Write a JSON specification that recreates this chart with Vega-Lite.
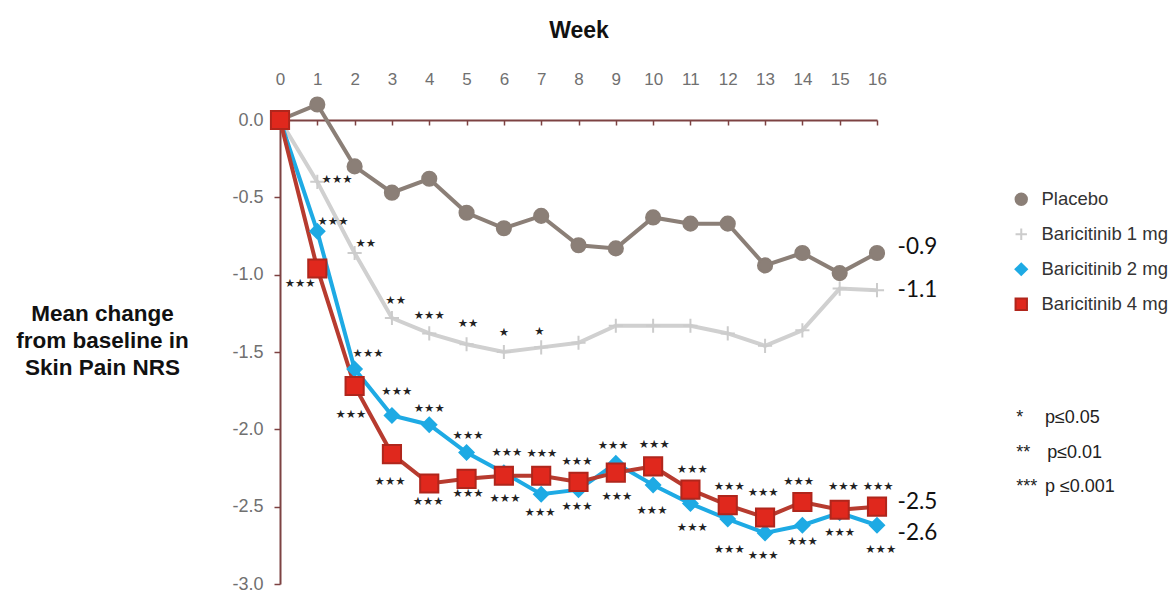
{
  "$schema": "https://vega.github.io/schema/vega-lite/v6.json",
  "width": 597,
  "height": 464,
  "autosize": {"type": "none"},
  "padding": {"left": 280, "top": 120, "right": 296, "bottom": 8},
  "background": "white",
  "config": {
    "view": {"stroke": null},
    "font": "Liberation Sans",
    "legend": {
      "orient": "none", "legendX": 732, "legendY": 70,
      "labelFontSize": 18.5, "labelColor": "#333", "labelOffset": 11,
      "symbolSize": 130, "rowPadding": 15, "symbolStrokeWidth": 2
    }
  },
  "datasets": {
    "series": [
      {"week": 0, "group": "Placebo", "value": 0},
      {"week": 1, "group": "Placebo", "value": 0.10},
      {"week": 2, "group": "Placebo", "value": -0.30},
      {"week": 3, "group": "Placebo", "value": -0.47},
      {"week": 4, "group": "Placebo", "value": -0.38},
      {"week": 5, "group": "Placebo", "value": -0.60},
      {"week": 6, "group": "Placebo", "value": -0.70},
      {"week": 7, "group": "Placebo", "value": -0.62},
      {"week": 8, "group": "Placebo", "value": -0.81},
      {"week": 9, "group": "Placebo", "value": -0.83},
      {"week": 10, "group": "Placebo", "value": -0.63},
      {"week": 11, "group": "Placebo", "value": -0.67},
      {"week": 12, "group": "Placebo", "value": -0.67},
      {"week": 13, "group": "Placebo", "value": -0.94},
      {"week": 14, "group": "Placebo", "value": -0.86},
      {"week": 15, "group": "Placebo", "value": -0.99},
      {"week": 16, "group": "Placebo", "value": -0.86},
      {"week": 0, "group": "Baricitinib 1 mg", "value": 0},
      {"week": 1, "group": "Baricitinib 1 mg", "value": -0.40},
      {"week": 2, "group": "Baricitinib 1 mg", "value": -0.86},
      {"week": 3, "group": "Baricitinib 1 mg", "value": -1.28},
      {"week": 4, "group": "Baricitinib 1 mg", "value": -1.38},
      {"week": 5, "group": "Baricitinib 1 mg", "value": -1.45},
      {"week": 6, "group": "Baricitinib 1 mg", "value": -1.50},
      {"week": 7, "group": "Baricitinib 1 mg", "value": -1.47},
      {"week": 8, "group": "Baricitinib 1 mg", "value": -1.44},
      {"week": 9, "group": "Baricitinib 1 mg", "value": -1.33},
      {"week": 10, "group": "Baricitinib 1 mg", "value": -1.33},
      {"week": 11, "group": "Baricitinib 1 mg", "value": -1.33},
      {"week": 12, "group": "Baricitinib 1 mg", "value": -1.38},
      {"week": 13, "group": "Baricitinib 1 mg", "value": -1.46},
      {"week": 14, "group": "Baricitinib 1 mg", "value": -1.36},
      {"week": 15, "group": "Baricitinib 1 mg", "value": -1.09},
      {"week": 16, "group": "Baricitinib 1 mg", "value": -1.10},
      {"week": 0, "group": "Baricitinib 2 mg", "value": 0},
      {"week": 1, "group": "Baricitinib 2 mg", "value": -0.72},
      {"week": 2, "group": "Baricitinib 2 mg", "value": -1.61},
      {"week": 3, "group": "Baricitinib 2 mg", "value": -1.91},
      {"week": 4, "group": "Baricitinib 2 mg", "value": -1.97},
      {"week": 5, "group": "Baricitinib 2 mg", "value": -2.15},
      {"week": 6, "group": "Baricitinib 2 mg", "value": -2.28},
      {"week": 7, "group": "Baricitinib 2 mg", "value": -2.42},
      {"week": 8, "group": "Baricitinib 2 mg", "value": -2.39},
      {"week": 9, "group": "Baricitinib 2 mg", "value": -2.22},
      {"week": 10, "group": "Baricitinib 2 mg", "value": -2.36},
      {"week": 11, "group": "Baricitinib 2 mg", "value": -2.48},
      {"week": 12, "group": "Baricitinib 2 mg", "value": -2.58},
      {"week": 13, "group": "Baricitinib 2 mg", "value": -2.67},
      {"week": 14, "group": "Baricitinib 2 mg", "value": -2.62},
      {"week": 15, "group": "Baricitinib 2 mg", "value": -2.54},
      {"week": 16, "group": "Baricitinib 2 mg", "value": -2.62},
      {"week": 0, "group": "Baricitinib 4 mg", "value": 0},
      {"week": 1, "group": "Baricitinib 4 mg", "value": -0.96},
      {"week": 2, "group": "Baricitinib 4 mg", "value": -1.72},
      {"week": 3, "group": "Baricitinib 4 mg", "value": -2.16},
      {"week": 4, "group": "Baricitinib 4 mg", "value": -2.35},
      {"week": 5, "group": "Baricitinib 4 mg", "value": -2.32},
      {"week": 6, "group": "Baricitinib 4 mg", "value": -2.30},
      {"week": 7, "group": "Baricitinib 4 mg", "value": -2.30},
      {"week": 8, "group": "Baricitinib 4 mg", "value": -2.34},
      {"week": 9, "group": "Baricitinib 4 mg", "value": -2.28},
      {"week": 10, "group": "Baricitinib 4 mg", "value": -2.24},
      {"week": 11, "group": "Baricitinib 4 mg", "value": -2.39},
      {"week": 12, "group": "Baricitinib 4 mg", "value": -2.49},
      {"week": 13, "group": "Baricitinib 4 mg", "value": -2.57},
      {"week": 14, "group": "Baricitinib 4 mg", "value": -2.47},
      {"week": 15, "group": "Baricitinib 4 mg", "value": -2.52},
      {"week": 16, "group": "Baricitinib 4 mg", "value": -2.50}
    ],
    "stars": [
      {"week": 1.53, "value": -0.39, "label": "★★★"},
      {"week": 2.3, "value": -0.80, "label": "★★"},
      {"week": 3.1, "value": -1.17, "label": "★★"},
      {"week": 4.0, "value": -1.27, "label": "★★★"},
      {"week": 5.04, "value": -1.32, "label": "★★"},
      {"week": 6.0, "value": -1.38, "label": "★"},
      {"week": 6.95, "value": -1.37, "label": "★"},
      {"week": 1.42, "value": -0.66, "label": "★★★"},
      {"week": 2.36, "value": -1.51, "label": "★★★"},
      {"week": 3.13, "value": -1.76, "label": "★★★"},
      {"week": 4.0, "value": -1.87, "label": "★★★"},
      {"week": 5.04, "value": -2.04, "label": "★★★"},
      {"week": 6.08, "value": -2.15, "label": "★★★"},
      {"week": 7.02, "value": -2.16, "label": "★★★"},
      {"week": 7.96, "value": -2.21, "label": "★★★"},
      {"week": 8.93, "value": -2.11, "label": "★★★"},
      {"week": 10.03, "value": -2.10, "label": "★★★"},
      {"week": 11.05, "value": -2.26, "label": "★★★"},
      {"week": 12.04, "value": -2.37, "label": "★★★"},
      {"week": 12.95, "value": -2.41, "label": "★★★"},
      {"week": 13.9, "value": -2.34, "label": "★★★"},
      {"week": 15.1, "value": -2.37, "label": "★★★"},
      {"week": 16.03, "value": -2.37, "label": "★★★"},
      {"week": 0.54, "value": -1.06, "label": "★★★"},
      {"week": 1.9, "value": -1.91, "label": "★★★"},
      {"week": 2.95, "value": -2.34, "label": "★★★"},
      {"week": 3.97, "value": -2.47, "label": "★★★"},
      {"week": 5.04, "value": -2.42, "label": "★★★"},
      {"week": 6.03, "value": -2.45, "label": "★★★"},
      {"week": 6.97, "value": -2.54, "label": "★★★"},
      {"week": 7.96, "value": -2.50, "label": "★★★"},
      {"week": 9.03, "value": -2.44, "label": "★★★"},
      {"week": 9.97, "value": -2.53, "label": "★★★"},
      {"week": 11.05, "value": -2.64, "label": "★★★"},
      {"week": 12.04, "value": -2.78, "label": "★★★"},
      {"week": 12.95, "value": -2.82, "label": "★★★"},
      {"week": 14.0, "value": -2.73, "label": "★★★"},
      {"week": 15.0, "value": -2.67, "label": "★★★"},
      {"week": 16.1, "value": -2.78, "label": "★★★"}
    ],
    "ends": [
      {"week": 16.55, "value": -0.82, "label": "-0.9"},
      {"week": 16.55, "value": -1.10, "label": "-1.1"},
      {"week": 16.55, "value": -2.47, "label": "-2.5"},
      {"week": 16.55, "value": -2.67, "label": "-2.6"}
    ],
    "pkey": [
      {"week": 19.73, "value": -1.927, "label": "*"},
      {"week": 19.73, "value": -2.153, "label": "**"},
      {"week": 19.73, "value": -2.373, "label": "***"},
      {"week": 20.5, "value": -1.927, "label": "p≤0.05"},
      {"week": 20.56, "value": -2.153, "label": "p≤0.01"},
      {"week": 20.5, "value": -2.373, "label": "p ≤0.001"}
    ]
  },
  "encoding": {
    "x": {
      "field": "week", "type": "quantitative",
      "scale": {"domain": [0, 16], "nice": false, "zero": false},
      "axis": {
        "orient": "top", "values": [0,1,2,3,4,5,6,7,8,9,10,11,12,13,14,15,16],
        "tickCount": 17, "labelOverlap": false, "labelBound": false, "labelSeparation": 0,
        "labelFlush": false,
        "grid": false, "domainColor": "#7d4242", "domainWidth": 2,
        "tickColor": "#7d4242", "tickSize": -5, "tickWidth": 1.5,
        "labelFontSize": 17, "labelColor": "#707070", "labelPadding": 37,
        "title": "Week", "titleFontSize": 23, "titleFontWeight": "bold",
        "titleColor": "#111", "titleY": -90, "titleX": 298.5,
        "titleBaseline": "middle", "titleAlign": "center"
      }
    },
    "y": {
      "field": "value", "type": "quantitative",
      "scale": {"domain": [-3, 0], "nice": false, "zero": false},
      "axis": {
        "values": [0, -0.5, -1, -1.5, -2, -2.5, -3],
        "labelExpr": "replace(format(datum.value, '.1f'), '\u2212', '-')",
        "labelOverlap": false,
        "grid": false, "domainColor": "#7d4242", "domainWidth": 2,
        "tickColor": "#7d4242", "tickSize": 6, "tickWidth": 1.5,
        "labelFontSize": 18, "labelColor": "#707070", "labelPadding": 11,
        "title": ["Mean change", "from baseline in", "Skin Pain NRS"],
        "titleFontSize": 22.5, "titleFontWeight": "bold", "titleColor": "#111",
        "titleAngle": 0, "titleX": -178, "titleY": 193,
        "titleAlign": "center", "titleBaseline": "middle", "titleLineHeight": 27
      }
    }
  },
  "layer": [
    {
      "data": {"name": "series"},
      "mark": {"type": "line", "strokeWidth": 4},
      "encoding": {
        "color": {
          "field": "group", "type": "nominal",
          "scale": {
            "range": ["#d0d0d0", "#1eaae4", "#b73b2f", "#8b7f77"]
          },
          "legend": null
        }
      }
    },
    {
      "data": {"name": "series"},
      "mark": {"type": "point", "filled": false, "strokeWidth": 2, "opacity": 1, "size": 200},
      "encoding": {
        "shape": {
          "field": "group", "type": "nominal", "title": null,
          "scale": {
            "domain": ["Placebo", "Baricitinib 1 mg", "Baricitinib 2 mg", "Baricitinib 4 mg"],
            "range": ["circle", "M-1,0L1,0M0,-1L0,1", "diamond", "square"]
          }
        },
        "fill": {
          "field": "group", "type": "nominal", "title": null,
          "scale": {
            "domain": ["Placebo", "Baricitinib 1 mg", "Baricitinib 2 mg", "Baricitinib 4 mg"],
            "range": ["#8b7f77", "transparent", "#1eaae4", "#e0281d"]
          }
        },
        "stroke": {
          "field": "group", "type": "nominal", "title": null,
          "scale": {
            "domain": ["Placebo", "Baricitinib 1 mg", "Baricitinib 2 mg", "Baricitinib 4 mg"],
            "range": ["#8b7f77", "#cccccc", "#1eaae4", "#b0261c"]
          }
        }
      }
    },
    {
      "data": {"name": "series"},
      "transform": [{"filter": "datum.group === 'Baricitinib 4 mg'"}],
      "mark": {"type": "point", "filled": false, "strokeWidth": 2, "opacity": 1, "size": 330},
      "encoding": {
        "shape": {"field": "group", "type": "nominal", "title": null},
        "fill": {"field": "group", "type": "nominal", "title": null},
        "stroke": {"field": "group", "type": "nominal", "title": null}
      }
    },
    {
      "data": {"name": "stars"},
      "mark": {"type": "text", "font": "DejaVu Sans", "fontSize": 11.5, "color": "#222", "align": "center", "baseline": "middle"},
      "encoding": {"text": {"field": "label"}}
    },
    {
      "data": {"name": "ends"},
      "mark": {"type": "text", "font": "Lato", "fontSize": 22.5, "color": "#111", "align": "left", "baseline": "middle"},
      "encoding": {"text": {"field": "label"}}
    },
    {
      "data": {"name": "pkey"},
      "mark": {"type": "text", "fontSize": 18, "color": "#222", "align": "left", "baseline": "middle"},
      "encoding": {"text": {"field": "label"}}
    }
  ]
}
